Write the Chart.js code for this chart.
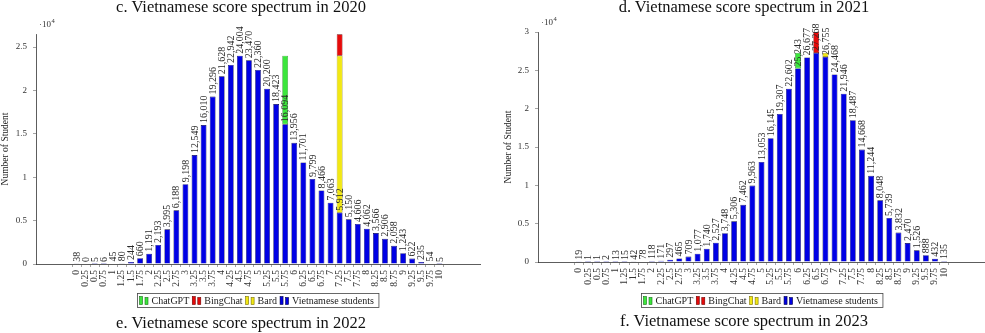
<!DOCTYPE html>
<html>
<head>
<meta charset="utf-8">
<script src="https://cdn.jsdelivr.net/npm/chart.js@4.4.1/dist/chart.umd.min.js"></script>
<style>
  html, body { margin: 0; padding: 0; background: #fff; }
  #wrap { position: relative; width: 985px; height: 333px; overflow: hidden; }
  canvas { position: absolute; top: 0; }
  .title {
    position: absolute;
    font-family: "Liberation Serif", serif;
    font-size: 16.5px;
    line-height: 1;
    white-space: nowrap;
    transform: translateX(-50%);
    color: #111;
  }
</style>
</head>
<body>
<div id="wrap">
  <canvas id="chart2022" width="492" height="333" style="left:0"></canvas>
  <canvas id="chart2023" width="493" height="333" style="left:492px"></canvas>
  <div class="title" style="left:241px; top:-1px">c. Vietnamese score spectrum in 2020</div>
  <div class="title" style="left:744px; top:-1px">d. Vietnamese score spectrum in 2021</div>
  <div class="title" style="left:241px; top:315px">e. Vietnamese score spectrum in 2022</div>
  <div class="title" style="left:744px; top:313px">f. Vietnamese score spectrum in 2023</div>
</div>
<script>
(function () {
    const scores = [0, 0.25, 0.5, 0.75, 1, 1.25, 1.5, 1.75, 2, 2.25, 2.5, 2.75, 3, 3.25, 3.5, 3.75,
        4, 4.25, 4.5, 4.75, 5, 5.25, 5.5, 5.75, 6, 6.25, 6.5, 6.75, 7, 7.25, 7.5, 7.75,
        8, 8.25, 8.5, 8.75, 9, 9.25, 9.5, 9.75, 10];

    const students2022 = [38, 0, 5, 6, 45, 80, 244, 660, 1191, 2193, 3995, 6188, 9198, 12549, 16010, 19296,
        21628, 22942, 24004, 23470, 22360, 20200, 18423, 16094, 13956, 11701, 9799, 8466, 7063, 5912, 5150, 4606,
        4062, 3566, 2906, 2098, 1243, 622, 235, 54, 5];
    const students2023 = [19, 1, 1, 2, 13, 15, 42, 78, 118, 171, 297, 465, 709, 1077, 1740, 2527,
        3748, 5306, 7462, 9963, 13053, 16145, 19307, 22602, 25243, 26677, 27268, 26755, 24468, 21946, 18487, 14668,
        11244, 8048, 5739, 3832, 2470, 1526, 888, 432, 135];

    const aiModels = ["ChatGPT", "BingChat", "Bard"];
    const aiScore2022 = [5.75, 7.25, 7.25];
    const aiFrom2022 = [16094, 24004, 5912];
    const aiTo2022 = [24004, 26466, 24004];
    const aiScore2023 = [6, 6.5, 6.75];
    const aiFrom2023 = [25243, 27268, 26755];
    const aiTo2023 = [27268, 30000, 27268];

    const yTicks = [0, 5000, 10000, 15000, 20000, 25000, 30000];

    const aiFill = ["rgb(60, 230, 60)", "rgb(230, 10, 10)", "rgb(242, 232, 20)"];
    const aiLine = ["rgb(20, 110, 20)", "rgb(110, 0, 0)", "rgb(120, 110, 0)"];
    const blueFill = "rgb(0, 0, 228)";
    const blueLine = "rgb(0, 0, 70)";
    const serif = "'Liberation Serif', 'Times New Roman', serif";

    const valueLabels = {
        id: "valueLabels",
        afterDatasetsDraw(chart) {
            const ctx = chart.ctx;
            const meta = chart.getDatasetMeta(0);
            const values = chart.data.datasets[0].data;
            ctx.save();
            ctx.font = "10px " + serif;
            ctx.fillStyle = "#2a2a2a";
            ctx.textAlign = "left";
            ctx.textBaseline = "middle";
            meta.data.forEach((bar, i) => {
                ctx.save();
                ctx.translate(bar.x, bar.y - 2);
                ctx.rotate(-Math.PI / 2);
                ctx.fillText(values[i].y.toLocaleString("en-US"), 0, 0.5);
                ctx.restore();
            });
            // the x10^4 exponent above the y axis
            const a = chart.chartArea;
            ctx.fillStyle = "#333";
            ctx.font = "9px " + serif;
            ctx.textBaseline = "alphabetic";
            ctx.fillText("\u00b710", a.left + 3, a.top - 7);
            const w = ctx.measureText("\u00b710").width;
            ctx.font = "6.5px " + serif;
            ctx.fillText("4", a.left + 3 + w + 0.5, a.top - 11);
            ctx.restore();
        }
    };

    const boxLegend = {
        id: "boxLegend",
        afterDraw(chart) {
            const ctx = chart.ctx;
            const a = chart.chartArea;
            const ds = chart.data.datasets;
            const items = ds.slice(1).concat([ds[0]]);
            ctx.save();
            ctx.font = "10px " + serif;
            const widths = items.map((d) => ctx.measureText(d.label).width);
            const total = 2 + widths.reduce((s, w) => s + w + 12, 0) + 3 * (items.length - 1) + 5;
            const left = Math.round((a.left + a.right) / 2 - total / 2) + 0.5;
            const top = 293.5;
            ctx.fillStyle = "#fff";
            ctx.fillRect(left, top, total, 14);
            ctx.strokeStyle = "#444";
            ctx.lineWidth = 0.8;
            ctx.strokeRect(left, top, total, 14);
            let x = left + 2;
            items.forEach((d, i) => {
                ctx.fillStyle = d.backgroundColor;
                ctx.strokeStyle = d.borderColor;
                ctx.lineWidth = 0.6;
                ctx.fillRect(x, top + 3, 3, 8);
                ctx.strokeRect(x, top + 3, 3, 8);
                ctx.fillRect(x + 5.5, top + 4, 3, 7);
                ctx.strokeRect(x + 5.5, top + 4, 3, 7);
                ctx.fillStyle = "#1a1a1a";
                ctx.textBaseline = "alphabetic";
                ctx.fillText(d.label, x + 12, top + 10.5);
                x += 12 + widths[i] + 3;
            });
            ctx.restore();
        }
    };

    function makeChart(id, students, aiScore, aiFrom, aiTo, yMax, yWidth, padRight, titlePad) {
        const datasets = [{
            label: "Vietnamese students",
            data: scores.map((s, i) => ({ x: s, y: students[i] })),
            backgroundColor: blueFill,
            borderColor: blueLine,
            borderWidth: 0.6,
        }];
        aiModels.forEach((name, i) => {
            datasets.push({
                label: name,
                data: [{ x: aiScore[i], y: [aiFrom[i], aiTo[i]] }],
                backgroundColor: aiFill[i],
                borderColor: aiLine[i],
                borderWidth: 0.6,
                borderSkipped: false,
            });
        });

        new Chart(document.getElementById(id).getContext("2d"), {
            type: "bar",
            data: { datasets },
            options: {
                animation: false,
                responsive: false,
                layout: { padding: { top: id === "chart2022" ? 34 : 32, right: padRight, left: 0, bottom: 0 } },
                datasets: {
                    bar: { grouped: false, barPercentage: 0.64, categoryPercentage: 1 }
                },
                scales: {
                    x: {
                        type: "linear",
                        min: -0.97,
                        max: 10.97,
                        afterBuildTicks: (scale) => {
                            scale.ticks = scores.map((v) => ({ value: v }));
                        },
                        afterFit: (scale) => { scale.height = id === "chart2022" ? 69 : 71; },
                        grid: { drawOnChartArea: false, tickLength: 3, color: "#666", tickWidth: 0.6 },
                        border: { color: "#333", width: 0.8 },
                        ticks: {
                            autoSkip: false,
                            maxRotation: 90,
                            minRotation: 90,
                            padding: 3,
                            color: "#333",
                            font: { family: serif, size: 9.5 },
                            callback: (v) => String(v),
                        },
                    },
                    y: {
                        min: 0,
                        max: yMax,
                        afterBuildTicks: (scale) => {
                            scale.ticks = yTicks.filter((v) => v <= yMax).map((v) => ({ value: v }));
                        },
                        afterFit: (scale) => { scale.width = yWidth; },
                        grid: { drawOnChartArea: false, tickLength: 3, color: "#666", tickWidth: 0.6 },
                        border: { color: "#333", width: 0.8 },
                        ticks: {
                            padding: 6,
                            color: "#333",
                            font: { family: serif, size: 9 },
                            callback: (v) => String(v / 10000),
                        },
                        title: {
                            display: true,
                            text: "Number of Student",
                            color: "#222",
                            padding: { top: titlePad, bottom: 0 },
                            font: { family: serif, size: 9.5 },
                        },
                    },
                },
                plugins: {
                    legend: { display: false },
                    tooltip: { enabled: false },
                },
            },
            plugins: [valueLabels, boxLegend],
        });
    }

    makeChart("chart2022", students2022, aiScore2022, aiFrom2022, aiTo2022, 26500, 36, 12, 0);
    makeChart("chart2023", students2023, aiScore2023, aiFrom2023, aiTo2023, 30000, 46, 0, 11);
})();
</script>
</body>
</html>
